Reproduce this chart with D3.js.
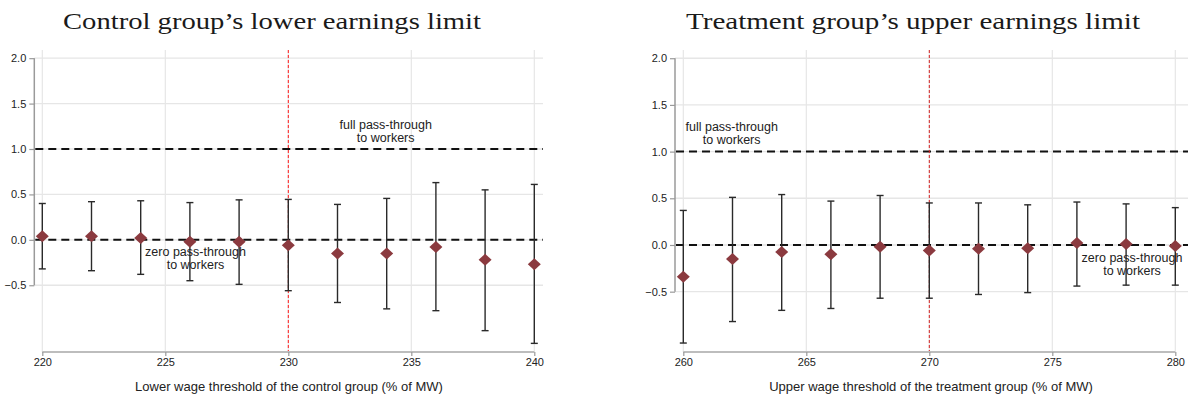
<!DOCTYPE html>
<html><head><meta charset="utf-8">
<script src="https://cdn.jsdelivr.net/npm/d3@7"></script>
<style>body{margin:0;background:#fff}svg{display:block}</style>
</head><body>
<svg id="c" width="1188" height="397"></svg>
<script>
// ---- data ----
const titles = ["Control group\u2019s lower earnings limit", "Treatment group\u2019s upper earnings limit"];
const xTitles = ["Lower wage threshold of the control group (% of MW)", "Upper wage threshold of the treatment group (% of MW)"];
const xLeft = [220, 222, 224, 226, 228, 230, 232, 234, 236, 238, 240];
const estLeft = [0.04, 0.04, 0.02, -0.02, -0.02, -0.06, -0.15, -0.15, -0.08, -0.22, -0.27];
const loLeft = [-0.32, -0.34, -0.38, -0.45, -0.49, -0.56, -0.69, -0.76, -0.78, -1.00, -1.14];
const hiLeft = [0.40, 0.42, 0.43, 0.41, 0.44, 0.445, 0.39, 0.456, 0.63, 0.55, 0.61];
const xRight = [260, 262, 264, 266, 268, 270, 272, 274, 276, 278, 280];
const estRight = [-0.34, -0.15, -0.075, -0.10, -0.02, -0.06, -0.04, -0.035, 0.02, 0.01, -0.01];
const loRight = [-1.05, -0.82, -0.70, -0.68, -0.57, -0.57, -0.53, -0.51, -0.44, -0.43, -0.43];
const hiRight = [0.37, 0.51, 0.54, 0.47, 0.53, 0.45, 0.45, 0.43, 0.46, 0.44, 0.40];
const xTicksLeft = [220, 225, 230, 235, 240];
const xTicksRight = [260, 265, 270, 275, 280];
const yTicks = [-0.5, 0.0, 0.5, 1.0, 1.5, 2.0];
const refLines = [0, 1];
const cutoffs = [230, 270];
const yDomains = [[-1.235, 2.09], [-1.146, 2.088]];

const svg = d3.select("#c");
const panels = [
  {x: xLeft, est: estLeft, lo: loLeft, hi: hiLeft, xt: xTicksLeft, yd: yDomains[0], cut: cutoffs[0],
   axisX: 34.3, rightEdge: 543, r0: 42.3, r1: 534.3, titleX: 272, titleW: 418, xtX: 289,
   full: {x: 385.7, y: 128.5}, zero: {x: 195.5, y: 255.5}},
  {x: xRight, est: estRight, lo: loRight, hi: hiRight, xt: xTicksRight, yd: yDomains[1], cut: cutoffs[1],
   axisX: 675, rightEdge: 1188, r0: 683.3, r1: 1175.3, titleX: 913, titleW: 454, xtX: 931,
   full: {x: 731.7, y: 130.5}, zero: {x: 1132, y: 261.5}}
];
const plotTop = 50, plotBottom = 352;

panels.forEach((p, i) => {
  const g = svg.append("g");
  const x = d3.scaleLinear().domain([p.xt[0], p.xt[p.xt.length - 1]]).range([p.r0, p.r1]);
  const y = d3.scaleLinear().domain(p.yd).range([plotBottom, plotTop]);

  // horizontal grid
  g.selectAll(".hg").data(yTicks).join("line")
    .attr("x1", p.axisX).attr("x2", p.rightEdge)
    .attr("y1", d => y(d)).attr("y2", d => y(d))
    .attr("stroke", "#e6e6e6").attr("stroke-width", 1.4);
  // vertical grid
  g.selectAll(".vg").data(p.xt).join("line")
    .attr("x1", d => x(d)).attr("x2", d => x(d))
    .attr("y1", plotTop).attr("y2", plotBottom)
    .attr("stroke", "#e6e6e6").attr("stroke-width", 1.2);

  // y axis
  const ya = d3.axisLeft(y).tickValues(yTicks).tickFormat(d3.format(".1f")).tickSize(5).tickPadding(3);
  const yg = g.append("g").attr("transform", `translate(${p.axisX},0)`).call(ya);
  yg.select(".domain").remove();
  yg.append("line").attr("x1", 0).attr("x2", 0).attr("y1", y(2.0)).attr("y2", y(-0.5))
    .attr("stroke", "#9a9a9a").attr("stroke-width", 1.5);
  yg.selectAll(".tick line").attr("stroke", "#9a9a9a").attr("stroke-width", 1.2);
  yg.selectAll(".tick text").attr("fill", "#222").style("font", "11px 'Liberation Sans', Arial, sans-serif");

  // x axis
  const xa = d3.axisBottom(x).tickValues(p.xt).tickFormat(d3.format("d")).tickSize(4).tickPadding(2);
  const xg = g.append("g").attr("transform", `translate(0,${plotBottom})`).call(xa);
  xg.select(".domain").attr("stroke", "#bdbdbd").attr("stroke-width", 2)
    .attr("d", `M${p.r0},0H${p.r1}`);
  xg.selectAll(".tick line").attr("stroke", "#9a9a9a").attr("stroke-width", 1.2);
  xg.selectAll(".tick text").attr("fill", "#222").style("font", "11px 'Liberation Sans', Arial, sans-serif");

  // reference dashed lines
  g.selectAll(".ref").data(refLines).join("line")
    .attr("x1", p.axisX + 1).attr("x2", p.rightEdge)
    .attr("y1", d => y(d)).attr("y2", d => y(d))
    .attr("stroke", "#111").attr("stroke-width", 2).attr("stroke-dasharray", "8,5");

  // cutoff red line
  g.append("line").attr("x1", x(p.cut)).attr("x2", x(p.cut)).attr("y1", plotTop).attr("y2", plotBottom - 1)
    .attr("stroke", i === 0 ? "#ff1a1a" : "#d42020").attr("stroke-width", 1).attr("stroke-dasharray", "3,2");

  // error bars
  const idx = d3.range(p.x.length);
  g.selectAll(".eb").data(idx).join("line")
    .attr("x1", d => x(p.x[d])).attr("x2", d => x(p.x[d]))
    .attr("y1", d => y(p.lo[d])).attr("y2", d => y(p.hi[d]))
    .attr("stroke", "#2a2a2a").attr("stroke-width", 1.4);
  ["lo", "hi"].forEach(k => {
    g.selectAll(".cap" + k).data(idx).join("line")
      .attr("x1", d => x(p.x[d]) - 3.5).attr("x2", d => x(p.x[d]) + 3.5)
      .attr("y1", d => y(p[k][d])).attr("y2", d => y(p[k][d]))
      .attr("stroke", "#2a2a2a").attr("stroke-width", 1.4);
  });

  // diamonds
  g.selectAll(".pt").data(idx).join("path")
    .attr("d", d => {
      const cx = x(p.x[d]), cy = y(p.est[d]);
      return `M${cx},${cy - 6}L${cx + 6.5},${cy}L${cx},${cy + 6}L${cx - 6.5},${cy}Z`;
    })
    .attr("fill", "#8b3a3f");

  // annotations
  const ann = (pos, lines) => {
    const t = g.append("text").attr("text-anchor", "middle").attr("fill", "#222")
      .style("font", "12.5px 'Liberation Sans', Arial, sans-serif");
    lines.forEach((l, j) => t.append("tspan").attr("x", pos.x).attr("y", pos.y + j * 13).text(l));
  };
  ann(p.full, ["full pass-through", "to workers"]);
  ann(p.zero, ["zero pass-through", "to workers"]);

  // title
  svg.append("text").attr("x", p.titleX).attr("y", 29).attr("text-anchor", "middle")
    .attr("textLength", p.titleW).attr("lengthAdjust", "spacingAndGlyphs")
    .attr("fill", "#1a1a1a").style("font", "24px 'Liberation Serif', 'Times New Roman', serif")
    .text(titles[i]);
  // x title
  svg.append("text").attr("x", p.xtX).attr("y", 391).attr("text-anchor", "middle")
    .attr("fill", "#222").style("font", "13px 'Liberation Sans', Arial, sans-serif")
    .text(xTitles[i]);
});
</script>
</body></html>
